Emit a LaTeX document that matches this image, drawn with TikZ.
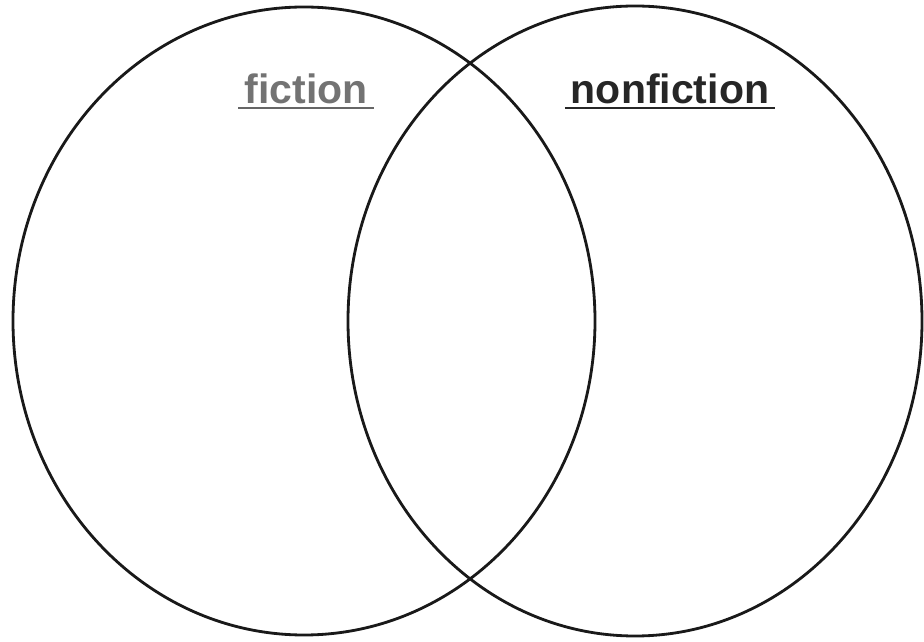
\documentclass[tikz,border=0pt]{standalone}
\usepackage{fontspec}
\setmainfont{Liberation Sans}
\begin{document}
\begin{tikzpicture}[
x=0.03cm, y=0.03cm,
ring/.style={
draw=black!90,
line width=2.4pt
},
heading/.style={
font=\bfseries\fontsize{35}{35}\selectfont,
inner xsep=5pt,
inner ysep=3pt,
anchor=base
}
]

\useasboundingbox (0,0) rectangle (924,641);

% the two sets
\draw[ring] (304,320) ellipse (291 and 314);
\draw[ring] (635,320) ellipse (287 and 315);

\node[heading, text=black!55] (F) at (306,537)
{fiction};

\node[heading, text=black!85] (N) at (670,537)
{nonfiction};

\draw[black!60, line width=2pt] (F.south west) -- (F.south east);
\draw[black!85, line width=2pt] (N.south west) -- (N.south east);

\end{tikzpicture}
\end{document}
